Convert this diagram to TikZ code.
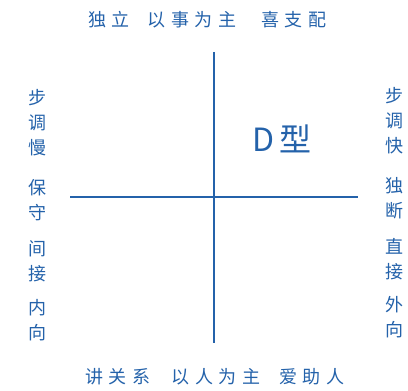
\documentclass[tikz,border=0pt]{standalone}
\usepackage{fontspec}
\newfontfamily\cjk[LetterSpace=30]{Noto Sans CJK SC}
\newfontfamily\cjkcol{Noto Sans CJK SC}
\definecolor{dblue}{HTML}{2462AA}

\begin{document}
\begin{tikzpicture}[x=1pt, y=1pt, word/.style={text=dblue, font=\cjk\fontsize{18}{18}\selectfont, inner sep=0pt}, col/.style={text=dblue, font=\cjkcol\fontsize{18}{25}\selectfont, align=center, inner sep=0pt}, axis/.style={draw=dblue, line width=2.4pt}]
            \useasboundingbox (0,0) rectangle (408,391);
            % nodes
            \node[word] (t1) at (109,371) {独立};
            \node[word] (t2) at (192,371) {以事为主};
            \node[word] (t3) at (294,371) {喜支配};
            \node[word] (b1) at (118,14) {讲关系};
            \node[word] (b2) at (216,14) {以人为主};
            \node[word] (b3) at (312,14) {爱助人};
            \node[col] (l1) at (37,268) {步\\调\\慢};
            \node[col] (l2) at (37,191) {保\\守};
            \node[col] (l3) at (37,130) {间\\接};
            \node[col] (l4) at (37,71) {内\\向};
            \node[col] (r1) at (394,270) {步\\调\\快};
            \node[col] (r2) at (394,193) {独\\断};
            \node[col] (r3) at (394,132) {直\\接};
            \node[col] (r4) at (394,74) {外\\向};
            \node[text=dblue, font=\cjkcol\fontsize{32}{32}\selectfont, inner sep=0pt] (type) at (282,252) {D\,型};
            \coordinate (n) at (214,339);
            \coordinate (s) at (214,48);
            \coordinate (w) at (70,194);
            \coordinate (e) at (358,194);
            % lines
            \draw [axis] (n) -- (s);
            \draw [axis] (w) -- (e);
        \end{tikzpicture}
\end{document}
